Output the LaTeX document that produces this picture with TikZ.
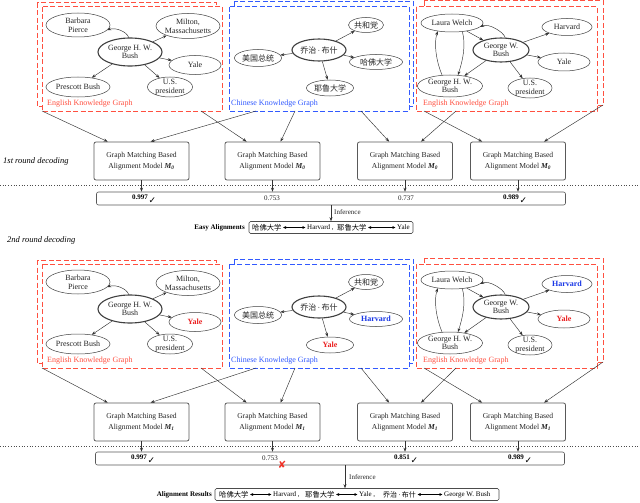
\documentclass[tikz,border=0pt]{standalone}
\usepackage{fontspec}
\setmainfont{Liberation Serif}
\newfontfamily\cjk{Noto Sans CJK SC}
\newfontfamily\dejavu{DejaVu Sans}
\usetikzlibrary{arrows.meta,shapes.geometric}
\definecolor{kgred}{RGB}{255,80,64}
\definecolor{kgblue}{RGB}{50,90,255}
\definecolor{hlred}{RGB}{235,35,35}
\definecolor{hlblue}{RGB}{25,55,230}
\definecolor{xred}{RGB}{240,50,40}
\newcommand\hlR[1]{\textcolor{hlred}{\bfseries #1}}
\newcommand\hlB[1]{\textcolor{hlblue}{\bfseries #1}}
\newcommand\Mz[1]{\textbf{\textit{M}}\textsubscript{\textbf{\textit{#1}}}}
\newcommand\qzname{{\cjk 乔治}{\rmfamily\,·\,}{\cjk 布什}}
\tikzset{
  ent/.style n args={3}{ellipse, draw=black!75, line width=0.5pt, minimum width=#1pt, minimum height=#2pt, inner sep=0pt, label={[entl]center:{#3}}},
  hub/.style n args={3}{ent={#1}{#2}{#3}, line width=1.1pt},
  entl/.style={font=\fontsize{8}{8.6}\selectfont, align=center, inner sep=0pt, text=black!85},
  arr/.style={draw=black!80, line width=0.45pt, -{Stealth[length=4pt,width=3pt]}},
  kgbox/.style={dash pattern=on 5pt off 2.5pt, line width=1pt, fill=white},
  lbl/.style={anchor=west, inner sep=0pt, font=\fontsize{8}{9}\selectfont},
  model/.style={draw=black!65, line width=0.8pt, rounded corners=2pt, minimum width=95pt, minimum height=38pt, inner sep=0pt, align=center, font=\fontsize{7.6}{11.5}\selectfont, text=black!85},
  bar/.style={draw=black!65, line width=0.6pt, rounded corners=2pt, minimum width=469pt, minimum height=13pt, inner sep=0pt},
  score/.style={inner sep=0pt, font=\fontsize{7}{8}\selectfont, text=black!85},
  bscore/.style={inner sep=0pt, font=\fontsize{7}{8}\selectfont\bfseries, text=black},
  chk/.style={inner sep=0pt, font=\dejavu\fontsize{9}{9}\selectfont},
  xmk/.style={inner sep=0pt, font=\dejavu\fontsize{10}{10}\selectfont, text=xred},
  divider/.style={dotted, draw=black!70, line width=0.7pt},
  roundlbl/.style={anchor=west, inner sep=0pt, font=\fontsize{8.5}{9}\selectfont\itshape},
  alnbox/.style={draw=black!70, line width=0.6pt, rounded corners=1.5pt, minimum height=12pt, inner sep=0pt},
  alnt/.style={anchor=west, inner sep=0pt, font=\fontsize{7}{8}\selectfont},
  alnc/.style={anchor=west, inner sep=0pt, font=\cjk\fontsize{7.3}{8}\selectfont},
  dbl/.style={draw=black, line width=0.7pt, {Triangle[length=3pt,width=2.6pt]}-{Triangle[length=3pt,width=2.6pt]}, shorten <=1.5pt, shorten >=1.5pt},
  alnhead/.style={anchor=east, inner sep=0pt, font=\fontsize{7}{8}\selectfont\bfseries},
  inf/.style={anchor=west, inner sep=0pt, font=\fontsize{7}{8}\selectfont, text=black!85},
}
% #1 shift, #2 round id, #3 E1 Yale, #4 C Harvard, #5 C Yale, #6 E2 Harvard, #7 E2 Yale
\newcommand\kgpanels[7]{%
\begin{scope}[shift={(0,#1)}, name prefix=r#2-]
  % English graph 1
  \draw[kgbox, draw=kgred] (37,3) rectangle (216,106);
  \draw[kgbox, draw=kgred] (42,7) rectangle (222,111);
  \node[lbl, text=kgred] (la) at (47,104) {English Knowledge Graph};
  \node[ent={64}{24}{Barbara\\Pierce}] (bp) at (78,25) {};
  \node[ent={64}{25}{Milton,\\Massachusetts}] (mm) at (188,26) {};
  \node[hub={64}{28}{George H. W.\\Bush}] (gh) at (130,52) {};
  \node[ent={52}{19}{#3}] (ya) at (195,65) {};
  \node[ent={64}{20}{Prescott Bush}] (pb) at (78,87) {};
  \node[ent={45}{20}{U.S.\\president}] (usa) at (170,87) {};
  \draw[arr] (gh.95) .. controls +(-2,-6) and +(8,-3) .. (bp.-10);
  \draw[arr] (gh) -- (mm);
  \draw[arr] (gh) -- (ya);
  \draw[arr] (gh) -- (pb);
  \draw[arr] (gh) -- (usa);
  \coordinate (e1bl) at (42,111);
  \coordinate (e1br) at (201,111);
  % Chinese graph
  \draw[kgbox, draw=kgblue] (234,2) rectangle (413,106);
  \draw[kgbox, draw=kgblue] (229,7) rectangle (409,111);
  \node[lbl, text=kgblue] (lb) at (231,104) {Chinese Knowledge Graph};
  \node[hub={54}{22}{\qzname}] (qz) at (319,50) {};
  \node[ent={35}{15}{\cjk 共和党}] (ghd) at (366,25) {};
  \node[ent={47}{17}{\cjk 美国总统}] (mg) at (258,58) {};
  \node[ent={53}{15}{#4}] (hf) at (376,62) {};
  \node[ent={47}{16}{#5}] (yl) at (330,88) {};
  \draw[arr] (qz) -- (ghd);
  \draw[arr] (qz) -- (mg);
  \draw[arr] (qz) -- (hf);
  \draw[arr] (qz) -- (yl);
  \coordinate (cbl) at (256,111);
  \coordinate (cbm) at (295,111);
  \coordinate (cbr) at (361,111);
  % English graph 2
  \draw[kgbox, draw=kgred] (424,1) rectangle (603,105);
  \draw[kgbox, draw=kgred] (416,7) rectangle (597,111);
  \node[lbl, text=kgred] (lc) at (423,104) {English Knowledge Graph};
  \node[ent={62}{18}{Laura Welch}] (lw) at (452,23) {};
  \node[ent={50}{17}{#6}] (hv) at (567,27) {};
  \node[hub={56}{24}{George W.\\Bush}] (gw) at (501,50) {};
  \node[ent={52}{18}{#7}] (yb) at (564,62) {};
  \node[ent={65}{22}{George H. W.\\Bush}] (ghb) at (450,86) {};
  \node[ent={44}{20}{U.S.\\president}] (usb) at (530,88) {};
  \draw[arr] (lw) -- (gw);
  \draw[arr] (gw.71) .. controls +(-2,-6) and +(8,-4) .. (lw.-8);
  \draw[arr] (gw) -- (hv);
  \draw[arr] (gw) -- (yb);
  \draw[arr] (gw) -- (ghb);
  \draw[arr] (gw) -- (usb);
  \draw[arr] (ghb.126) .. controls +(-6,-14) and +(-4,12) .. (lw.-150);
  \draw[arr] (lw.-40) .. controls +(4,14) and +(4,-12) .. (ghb.54);
  \coordinate (e2bl) at (424,111);
  \coordinate (e2bm) at (456,111);
  \coordinate (e2br) at (603,105);
\end{scope}}
% #1 round prefix, #2 model prefix
\newcommand\kglinks[2]{%
  \draw[arr] (#1e1bl) -- ([xshift=14pt]#2a.north west);
  \draw[arr] (#1cbl) -- ([xshift=57pt]#2a.north west);
  \draw[arr] (#1e1br) -- ([xshift=22pt]#2b.north west);
  \draw[arr] (#1cbm) -- ([xshift=56pt]#2b.north west);
  \draw[arr] (#1cbr) -- ([xshift=32pt]#2c.north west);
  \draw[arr] (#1e2bm) -- ([xshift=64pt]#2c.north west);
  \draw[arr] (#1e2bl) -- ([xshift=12pt]#2d.north west);
  \draw[arr] (#1e2br) -- ([xshift=74pt]#2d.north west);
}
\begin{document}
\begin{tikzpicture}[x=1pt, y=-1pt]
\useasboundingbox (0,0) rectangle (640,503);
\fill[white] (0,0) rectangle (640,503);

% ---------- Round 1 ----------
\kgpanels{0}{0}{Yale}{\cjk 哈佛大学}{\cjk 耶鲁大学}{Harvard}{Yale}
\node[model] (ma) at (141.5,161) {Graph Matching Based\\Alignment Model \Mz{0}};
\node[model] (mb) at (272.5,161) {Graph Matching Based\\Alignment Model \Mz{0}};
\node[model] (mc) at (405,161) {Graph Matching Based\\Alignment Model \Mz{0}};
\node[model] (md) at (518,161) {Graph Matching Based\\Alignment Model \Mz{0}};
\kglinks{r0-}{m}
\node[roundlbl] (rl1) at (3,161) {1st round decoding};
\draw[divider] (0,185) -- (640,185);
\node[bar] (b1) at (331,198.5) {};
\foreach \m in {ma,mb,mc,md} \draw[arr] (\m.south) -- (\m.south |- b1.north);
\node[bscore] (s1a) at (140,197) {0.997};
\node[chk] (k1a) at (152.5,200.5) {✓};
\node[score] (s1b) at (272,198) {0.753};
\node[score] (s1c) at (406,198) {0.737};
\node[bscore] (s1d) at (511,197) {0.989};
\node[chk] (k1d) at (523.5,200.5) {✓};
\node[alnhead] (eh) at (245,227.5) {Easy Alignments};
\node[alnbox, minimum width=164pt] (easy) at (331,227.5) {};
\draw[arr] (b1.south) -- (b1.south |- easy.north);
\node[inf] (inf1) at (334,212) {Inference};
\node[alnc] (ea1) at (252,227.5) {哈佛大学};
\node[alnt] (ea2) at (307,227.5) {Harvard ,};
\node[alnc] (ea3) at (337,227.5) {耶鲁大学};
\node[alnt] (ea4) at (397,227.5) {Yale};
\draw[dbl] (ea1.east) -- (ea2.west);
\draw[dbl] (ea3.east) -- (ea4.west);

% ---------- Round 2 ----------
\node[roundlbl] (rl2) at (7,240) {2nd round decoding};
\kgpanels{257}{1}{\hlR{Yale}}{\hlB{Harvard}}{\hlR{Yale}}{\hlB{Harvard}}{\hlR{Yale}}
\node[model] (na) at (141.5,422) {Graph Matching Based\\Alignment Model \Mz{1}};
\node[model] (nb) at (272.5,422) {Graph Matching Based\\Alignment Model \Mz{1}};
\node[model] (nc) at (405,422) {Graph Matching Based\\Alignment Model \Mz{1}};
\node[model] (nd) at (518,422) {Graph Matching Based\\Alignment Model \Mz{1}};
\kglinks{r1-}{n}
\draw[divider] (0,446) -- (640,446);
\node[bar] (b2) at (330,458.5) {};
\foreach \m in {na,nb,nc,nd} \draw[arr] (\m.south) -- (\m.south |- b2.north);
\node[bscore] (s2a) at (139,457.5) {0.997};
\node[chk] (k2a) at (151.5,461) {✓};
\node[score] (s2b) at (270,458.5) {0.753};
\node[xmk] (x2b) at (282,464.5) {✘};
\node[bscore] (s2c) at (402,457.5) {0.851};
\node[chk] (k2c) at (414.5,461) {✓};
\node[bscore] (s2d) at (516,457.5) {0.989};
\node[chk] (k2d) at (528.5,461) {✓};
\node[alnhead] (rh) at (212,494.5) {Alignment Results};
\node[alnbox, minimum width=284pt] (res) at (357,494.5) {};
\coordinate (i2) at ([xshift=15pt]b2.south);
\draw[arr] (i2) -- (i2 |- res.north);
\node[inf] (inf2) at (349,477) {Inference};
\node[alnc] (ra1) at (219,494.5) {哈佛大学};
\node[alnt] (ra2) at (273,494.5) {Harvard ,};
\node[alnc] (ra3) at (305,494.5) {耶鲁大学};
\node[alnt] (ra4) at (359,494.5) {Yale ,};
\node[alnt] (ra5) at (383,494.5) {\qzname};
\node[alnt] (ra6) at (444,494.5) {George W. Bush};
\draw[dbl] (ra1.east) -- (ra2.west);
\draw[dbl] (ra3.east) -- (ra4.west);
\draw[dbl] (ra5.east) -- (ra6.west);
\end{tikzpicture}
\end{document}
